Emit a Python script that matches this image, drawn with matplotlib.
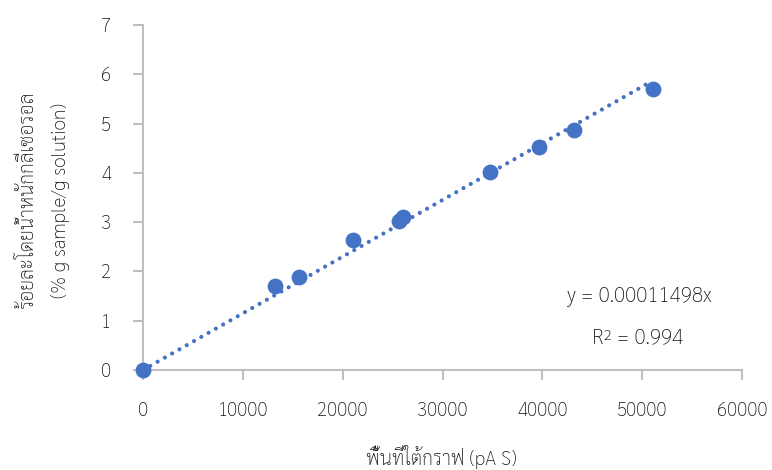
import matplotlib
matplotlib.use("Agg")
import matplotlib.pyplot as plt
import numpy as np

# Calibration data: peak area vs. glycerol content
peak_area = [0, 13220, 15660, 21040, 25670, 26010, 34760, 39700, 43200, 51060]
glycerol_pct = [0.0, 1.71, 1.88, 2.64, 3.02, 3.11, 4.01, 4.53, 4.87, 5.70]
slope = 0.00011498
r_squared = 0.994

x_ticks = [0, 10000, 20000, 30000, 40000, 50000, 60000]
y_ticks = [0, 1, 2, 3, 4, 5, 6, 7]

x_label = "พื้นที่ใต้กราฟ (pA S)"
y_label_th = "ร้อยละโดยน้ำหนักกลีเซอรอล"
y_label_en = "(% g sample/g solution)"

FONT = ["Sarabun", "DejaVu Sans"]
plt.rcParams["font.family"] = FONT
plt.rcParams["font.weight"] = "light"

W, H = 772, 470
fig = plt.figure(figsize=(W / 100, H / 100), dpi=100)
left, right, top, bottom = 143, 742, 25, 370
ax = fig.add_axes([left / W, 1 - bottom / H, (right - left) / W, (bottom - top) / H])

blue = "#4472C4"
grey = "#BFBFBF"
text_col = "#111111"

# Linear trendline through the origin
xt = np.array([0, max(peak_area)])
ax.plot(xt, slope * xt, color=blue, lw=3.0, linestyle=(0, (0.01, 2.0)),
        dash_capstyle="round", zorder=2)
ax.scatter(peak_area, glycerol_pct, s=130, color=blue, zorder=3, linewidths=0,
           clip_on=False)

ax.set_xlim(0, 60000)
ax.set_ylim(0, 7)
ax.set_xticks(x_ticks)
ax.set_yticks(y_ticks)
ax.set_xticklabels([str(v) for v in x_ticks])
ax.set_yticklabels([str(v) for v in y_ticks])

for s in ["top", "right"]:
    ax.spines[s].set_visible(False)
for s in ["left", "bottom"]:
    ax.spines[s].set_color(grey)
    ax.spines[s].set_linewidth(1.5)
ax.tick_params(axis="both", direction="out", length=7, width=1.5, color=grey,
               labelsize=13.5, labelcolor=text_col, pad=16)

fig.text(441 / W, 1 - 457 / H, x_label, ha="center", va="center",
         fontsize=14, color=text_col)
fig.text(27 / W, 1 - 200 / H, y_label_th, ha="center", va="center",
         rotation=90, fontsize=14, color=text_col)
fig.text(60 / W, 1 - 200 / H, y_label_en, ha="center", va="center",
         rotation=90, fontsize=14, color=text_col)

ax.text(0.828, 0.212, f"y = {slope:.8f}x", transform=ax.transAxes,
        ha="center", va="center", fontsize=15, color=text_col)
ax.text(0.826, 0.093, f"R² = {r_squared}", transform=ax.transAxes,
        ha="center", va="center", fontsize=15, color=text_col)

fig.savefig("out.png", dpi=100)
